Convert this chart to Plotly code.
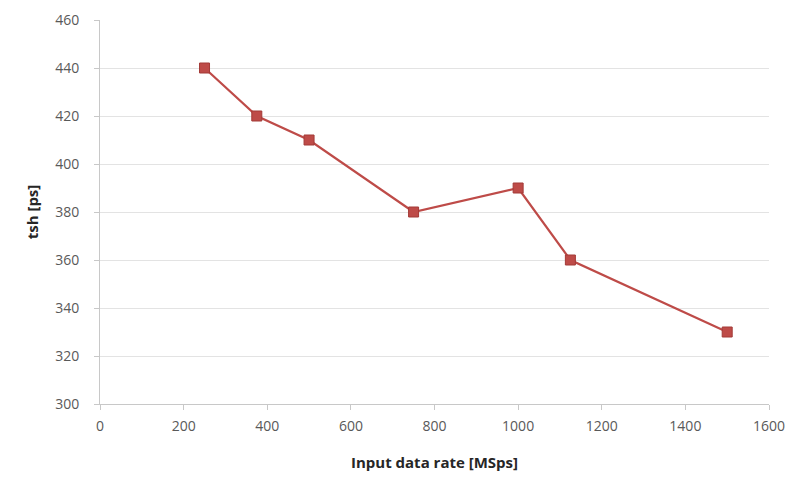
import plotly.graph_objs as go

# data
rate_msps = [250, 375, 500, 750, 1000, 1125, 1500]
tsh_ps = [440, 420, 410, 380, 390, 360, 330]

x_ticks = [0, 200, 400, 600, 800, 1000, 1200, 1400, 1600]
y_ticks = [300, 320, 340, 360, 380, 400, 420, 440, 460]

line_color = '#BE4B48'

fig = go.Figure()
fig.add_trace(go.Scatter(x=rate_msps, y=tsh_ps, mode='lines+markers',
                         line=dict(color=line_color, width=2.2),
                         marker=dict(symbol='square', size=10, color=line_color,
                                     line=dict(color='#A33A37', width=1)),
                         showlegend=False))

# page body has an 8px margin, so the figure is sized/offset to suit
fig.update_layout(
    width=785, height=464,
    paper_bgcolor='white', plot_bgcolor='white',
    font_family='Open Sans',
    margin=dict(l=92, r=24, t=12, b=68),
)
fig.update_xaxes(range=[0, 1600], tickvals=x_ticks, showgrid=False,
                 automargin=False,
                 showline=True, linecolor='#C8C8C8', linewidth=1,
                 ticks='outside', ticklen=5, tickcolor='#C8C8C8',
                 ticklabelstandoff=4,
                 tickfont=dict(size=14, color='#595959'),
                 title=dict(text='<b>Input data rate [MSps]</b>', standoff=28,
                            font=dict(size=15, color='#262626')))
fig.update_yaxes(range=[300, 460], tickvals=y_ticks, showgrid=True,
                 automargin=False,
                 gridcolor='#E3E3E3', gridwidth=1, zeroline=False,
                 showline=True, linecolor='#C8C8C8', linewidth=1,
                 ticks='outside', ticklen=5, tickcolor='#C8C8C8',
                 ticklabelstandoff=12,
                 tickfont=dict(size=14, color='#595959'),
                 title=dict(text='<b>tsh [ps]</b>', standoff=12,
                            font=dict(size=15, color='#262626')))

fig.write_html("out.html")
